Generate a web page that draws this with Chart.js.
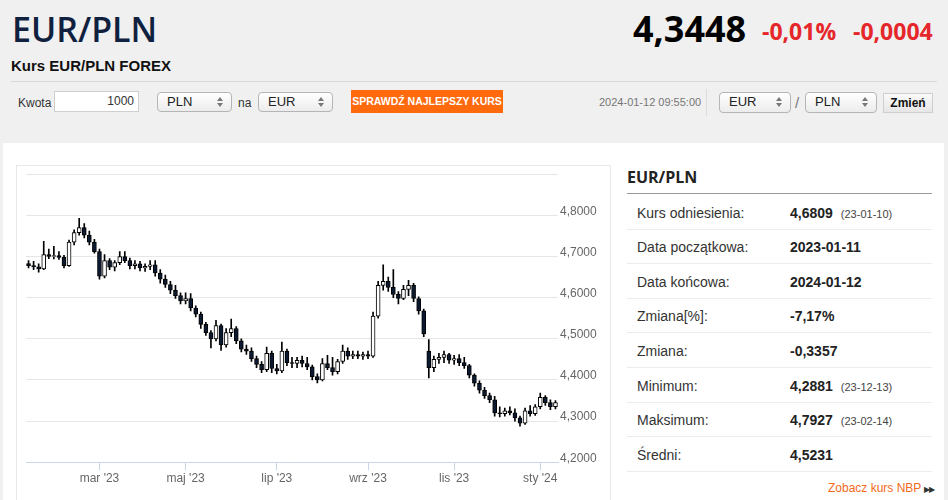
<!DOCTYPE html>
<html lang="pl">
<head>
<meta charset="utf-8">
<script src="https://cdn.jsdelivr.net/npm/chart.js@4.4.0/dist/chart.umd.min.js"></script>
<style>
  html, body { margin: 0; padding: 0; }
  body { width: 948px; height: 500px; background: #f0f0f0; position: relative; overflow: hidden;
         font-family: "Liberation Sans", Arial, sans-serif; color: #333; }
  .abs { position: absolute; line-height: 1; white-space: nowrap; }
  .os { font-family: "Open Sans", sans-serif; }
  .sel { position: absolute; box-sizing: border-box; border: 1px solid #b5b5b5; border-radius: 4px;
         background: linear-gradient(#ffffff, #ececec); font-size: 13px; color: #222; padding-left: 9px; line-height: 18px; }
  .sel:after { content: ""; position: absolute; right: 8px; top: 4px; border: 3px solid transparent; border-bottom: 4px solid #777; border-top: 0; }
  .sel:before { content: ""; position: absolute; right: 8px; top: 10px; border: 3px solid transparent; border-top: 4px solid #777; border-bottom: 0; }
  .row { position: absolute; left: 627px; width: 305px; height: 34px; border-bottom: 1px solid #ececec; }
  .row .l { position: absolute; left: 10px; top: 10px; font-size: 14px; color: #333; }
  .row .v { position: absolute; left: 163px; top: 10px; font-size: 14px; font-weight: bold; color: #222; }
  .row .d { font-size: 11px; font-weight: normal; color: #444; margin-left: 8px; }
</style>
</head>
<body>
<div class="abs os" style="left:12px;top:12px;font-size:34px;font-weight:600;color:#10213f;">EUR/PLN</div>
<div class="abs" style="left:11px;top:58px;font-size:15px;font-weight:bold;color:#111;">Kurs EUR/PLN FOREX</div>
<div class="abs os" style="left:633px;top:11px;font-size:36px;font-weight:700;color:#000;">4,3448</div>
<div class="abs os" style="left:762px;top:20px;font-size:23px;font-weight:700;color:#e5262b;">-0,01%</div>
<div class="abs os" style="left:853px;top:20px;font-size:23px;font-weight:700;color:#e5262b;">-0,0004</div>
<div class="abs" style="left:11px;top:81px;width:926px;height:1px;background:#d9d9d9;"></div>

<div class="abs" style="left:18px;top:97px;font-size:12px;color:#333;">Kwota</div>
<div class="abs" style="left:54px;top:91px;width:85px;height:21px;box-sizing:border-box;border:1px solid #cfcfcf;background:#fff;font-size:12px;text-align:right;padding-right:4px;line-height:19px;">1000</div>
<div class="sel" style="left:157px;top:92px;width:75px;height:20px;">PLN</div>
<div class="abs" style="left:238px;top:97px;font-size:12px;color:#333;">na</div>
<div class="sel" style="left:258px;top:92px;width:75px;height:20px;">EUR</div>
<div class="abs" style="left:351px;top:90px;width:152px;height:23px;background:#ff6a0d;color:#fff;font-size:10.5px;font-weight:bold;text-align:center;line-height:23px;">SPRAWDŹ NAJLEPSZY KURS</div>
<div class="abs" style="left:599px;top:97px;font-size:11px;color:#777;">2024-01-12 09:55:00</div>
<div class="abs" style="left:706px;top:89px;width:1px;height:27px;background:#dcdcdc;"></div>
<div class="sel" style="left:719px;top:92px;width:72px;height:21px;">EUR</div>
<div class="abs" style="left:795px;top:95px;font-size:15px;color:#777;">/</div>
<div class="sel" style="left:805px;top:92px;width:72px;height:21px;">PLN</div>
<div class="abs" style="left:883px;top:93px;width:50px;height:20px;box-sizing:border-box;border:1px solid #cfcfcf;background:linear-gradient(#fafafa,#e6e6e6);font-size:12px;font-weight:bold;color:#111;text-align:center;line-height:18px;">Zmień</div>

<div class="abs" style="left:3px;top:143px;width:941px;height:360px;background:#fff;"></div>
<div class="abs" style="left:16px;top:165px;width:595px;height:340px;box-sizing:border-box;border:1px solid #e8e8e8;"></div>
<div class="abs" style="left:16px;top:165px;width:596px;height:335px;">
  <canvas id="fxChart"></canvas>
</div>

<div class="abs os" style="left:627px;top:169px;font-size:16px;font-weight:700;color:#222;">EUR/PLN</div>
<div class="abs" style="left:627px;top:193px;width:305px;height:1px;background:#999;"></div>
<div id="stats"></div>
<div class="abs" style="left:828px;top:482px;font-size:12px;color:#f26a1b;">Zobacz kurs NBP <span style="color:#333;font-size:8px;letter-spacing:-1px;">▶▶</span></div>

<script>
// one candle per half week (Mon-Wed, Thu-Fri)
var dates = [
  '2023-01-11',
  '2023-01-16','2023-01-19','2023-01-23','2023-01-26','2023-01-30','2023-02-02','2023-02-06','2023-02-09',
  '2023-02-13','2023-02-16','2023-02-20','2023-02-23','2023-02-27','2023-03-02','2023-03-06','2023-03-09',
  '2023-03-13','2023-03-16','2023-03-20','2023-03-23','2023-03-27','2023-03-30','2023-04-03','2023-04-06',
  '2023-04-10','2023-04-13','2023-04-17','2023-04-20','2023-04-24','2023-04-27','2023-05-01','2023-05-04',
  '2023-05-08','2023-05-11','2023-05-15','2023-05-18','2023-05-22','2023-05-25','2023-05-29','2023-06-01',
  '2023-06-05','2023-06-08','2023-06-12','2023-06-15','2023-06-19','2023-06-22','2023-06-26','2023-06-29',
  '2023-07-03','2023-07-06','2023-07-10','2023-07-13','2023-07-17','2023-07-20','2023-07-24','2023-07-27',
  '2023-07-31','2023-08-03','2023-08-07','2023-08-10','2023-08-14','2023-08-17','2023-08-21','2023-08-24',
  '2023-08-28','2023-08-31','2023-09-04','2023-09-07','2023-09-11','2023-09-14','2023-09-18','2023-09-21',
  '2023-09-25','2023-09-28','2023-10-02','2023-10-05','2023-10-09','2023-10-12','2023-10-16','2023-10-19',
  '2023-10-23','2023-10-26','2023-10-30','2023-11-02','2023-11-06','2023-11-09','2023-11-13','2023-11-16',
  '2023-11-20','2023-11-23','2023-11-27','2023-11-30','2023-12-04','2023-12-07','2023-12-11','2023-12-14',
  '2023-12-18','2023-12-21','2023-12-25','2023-12-28','2024-01-01','2024-01-04','2024-01-08','2024-01-11'
];

var opens = [
  4.683, 4.678, 4.675, 4.670, 4.705, 4.700, 4.702, 4.698, 4.678, 4.735,
  4.758, 4.770, 4.752, 4.735, 4.712, 4.652, 4.690, 4.674, 4.685, 4.700,
  4.690, 4.678, 4.682, 4.672, 4.676, 4.680, 4.660, 4.645, 4.632, 4.618,
  4.605, 4.592, 4.598, 4.575, 4.560, 4.535, 4.515, 4.500, 4.532, 4.485,
  4.515, 4.525, 4.495, 4.475, 4.470, 4.452, 4.438, 4.425, 4.465, 4.428,
  4.422, 4.470, 4.442, 4.440, 4.448, 4.440, 4.432, 4.408, 4.400, 4.440,
  4.430, 4.420, 4.445, 4.470, 4.458, 4.462, 4.458, 4.462, 4.458, 4.555,
  4.630, 4.640, 4.625, 4.608, 4.598, 4.620, 4.630, 4.598, 4.568, 4.470,
  4.430, 4.450, 4.455, 4.462, 4.448, 4.452, 4.442, 4.435, 4.412, 4.392,
  4.375, 4.362, 4.352, 4.320, 4.318, 4.325, 4.320, 4.308, 4.295, 4.325,
  4.318, 4.335, 4.358, 4.345, 4.335
];
var highs = [
  4.690, 4.688, 4.682, 4.737, 4.718, 4.725, 4.712, 4.703, 4.740, 4.765,
  4.793, 4.780, 4.762, 4.742, 4.718, 4.705, 4.695, 4.690, 4.712, 4.712,
  4.696, 4.690, 4.688, 4.682, 4.690, 4.690, 4.668, 4.655, 4.640, 4.630,
  4.612, 4.612, 4.610, 4.580, 4.565, 4.540, 4.520, 4.545, 4.536, 4.525,
  4.548, 4.530, 4.500, 4.485, 4.478, 4.458, 4.445, 4.480, 4.470, 4.438,
  4.492, 4.475, 4.455, 4.455, 4.458, 4.455, 4.436, 4.415, 4.452, 4.460,
  4.455, 4.450, 4.485, 4.478, 4.470, 4.470, 4.468, 4.470, 4.565, 4.640,
  4.680, 4.650, 4.668, 4.615, 4.630, 4.642, 4.635, 4.602, 4.572, 4.498,
  4.458, 4.465, 4.470, 4.465, 4.460, 4.462, 4.455, 4.438, 4.415, 4.398,
  4.382, 4.368, 4.360, 4.335, 4.332, 4.335, 4.330, 4.312, 4.332, 4.338,
  4.340, 4.368, 4.362, 4.352, 4.350
];
var lows = [
  4.672, 4.668, 4.662, 4.668, 4.695, 4.694, 4.693, 4.672, 4.676, 4.728,
  4.752, 4.745, 4.728, 4.708, 4.645, 4.648, 4.668, 4.665, 4.680, 4.685,
  4.670, 4.670, 4.665, 4.664, 4.668, 4.652, 4.635, 4.625, 4.610, 4.598,
  4.585, 4.585, 4.568, 4.553, 4.525, 4.508, 4.478, 4.495, 4.472, 4.480,
  4.505, 4.488, 4.468, 4.462, 4.445, 4.430, 4.418, 4.420, 4.418, 4.415,
  4.418, 4.435, 4.430, 4.430, 4.432, 4.425, 4.400, 4.393, 4.398, 4.425,
  4.412, 4.415, 4.440, 4.450, 4.452, 4.452, 4.450, 4.452, 4.455, 4.550,
  4.618, 4.615, 4.600, 4.585, 4.595, 4.605, 4.590, 4.560, 4.505, 4.405,
  4.420, 4.440, 4.442, 4.440, 4.438, 4.435, 4.428, 4.405, 4.385, 4.368,
  4.355, 4.345, 4.312, 4.310, 4.312, 4.315, 4.300, 4.288, 4.292, 4.312,
  4.314, 4.330, 4.338, 4.328, 4.330
];
var closes = [
  4.678, 4.675, 4.670, 4.705, 4.700, 4.702, 4.698, 4.678, 4.735, 4.758,
  4.770, 4.752, 4.735, 4.712, 4.652, 4.690, 4.674, 4.685, 4.700, 4.690,
  4.678, 4.682, 4.672, 4.676, 4.680, 4.660, 4.645, 4.632, 4.618, 4.605,
  4.592, 4.598, 4.575, 4.560, 4.535, 4.515, 4.500, 4.532, 4.485, 4.515,
  4.525, 4.495, 4.475, 4.470, 4.452, 4.438, 4.425, 4.465, 4.428, 4.422,
  4.470, 4.442, 4.440, 4.448, 4.440, 4.432, 4.408, 4.400, 4.440, 4.430,
  4.420, 4.445, 4.470, 4.458, 4.462, 4.458, 4.462, 4.458, 4.555, 4.630,
  4.640, 4.625, 4.608, 4.598, 4.620, 4.630, 4.598, 4.568, 4.512, 4.430,
  4.450, 4.455, 4.462, 4.448, 4.452, 4.442, 4.435, 4.412, 4.392, 4.375,
  4.362, 4.352, 4.320, 4.318, 4.325, 4.320, 4.308, 4.295, 4.325, 4.318,
  4.335, 4.358, 4.345, 4.335, 4.345
];

var monthTicks = [
  ['2023-03-02', "mar '23"], ['2023-05-01', "maj '23"], ['2023-07-03', "lip '23"],
  ['2023-09-04', "wrz '23"], ['2023-11-02', "lis '23"], ['2024-01-01', "sty '24"]
];
var yTicks = [4.2, 4.3, 4.4, 4.5, 4.6, 4.7, 4.8, 4.9];

var statLabels = ['Kurs odniesienia:', 'Data początkowa:', 'Data końcowa:', 'Zmiana[%]:', 'Zmiana:', 'Minimum:', 'Maksimum:', 'Średni:'];
var statValues = ['4,6809', '2023-01-11', '2024-01-12', '-7,17%', '-0,3357', '4,2881', '4,7927', '4,5231'];
var statDates = ['(23-01-10)', '', '', '', '', '(23-12-13)', '(23-02-14)', ''];

var statsEl = document.getElementById('stats');
statLabels.forEach(function(lab, i) {
  var row = document.createElement('div');
  row.className = 'row';
  row.style.top = (194.5 + i * 34.6) + 'px';
  row.innerHTML = '<span class="l">' + lab + '</span><span class="v">' + statValues[i] +
    (statDates[i] ? '<span class="d">' + statDates[i] + '</span>' : '') + '</span>';
  statsEl.appendChild(row);
});

var tickIndex = {};
monthTicks.forEach(function(t) { tickIndex[dates.indexOf(t[0])] = t[1]; });

var bodyColors = opens.map(function(o, i) { return closes[i] >= o ? '#ffffff' : '#0b1a30'; });

var ctx = document.getElementById('fxChart').getContext('2d');
var fxChart = new Chart(ctx, {
  type: 'bar',
  data: {
    labels: dates,
    datasets: [
      {
        label: 'body',
        data: opens.map(function(o, i) { return [o, closes[i]]; }),
        backgroundColor: bodyColors,
        borderColor: '#000000',
        borderWidth: 1,
        borderSkipped: false,
        barThickness: 4,
        grouped: false,
        order: 0
      },
      {
        label: 'wick',
        data: lows.map(function(l, i) { return [l, highs[i]]; }),
        backgroundColor: '#000000',
        barThickness: 1,
        grouped: false,
        order: 1
      }
    ]
  },
  options: {
    responsive: true,
    maintainAspectRatio: false,
    animation: false,
    layout: { padding: { left: 10, top: 9, right: 0, bottom: 0 } },
    plugins: { legend: { display: false }, tooltip: { enabled: false } },
    scales: {
      x: {
        offset: true,
        grid: { display: true, offset: false, drawOnChartArea: false, drawTicks: true, tickLength: 8, color: '#ccd6eb' },
        border: { display: true, color: '#ccd6eb' },
        afterBuildTicks: function(axis) {
          axis.ticks = Object.keys(tickIndex).map(function(k) { return { value: +k }; });
        },
        afterFit: function(axis) { axis.height = 37.7; },
        ticks: {
          autoSkip: false, maxRotation: 0, padding: 1, color: '#666',
          font: { family: 'Liberation Sans', size: 12 },
          callback: function(v) { return tickIndex[v] || ''; }
        }
      },
      y: {
        position: 'right',
        min: 4.2,
        max: 4.9,
        afterBuildTicks: function(axis) {
          axis.ticks = yTicks.map(function(v) { return { value: v }; });
        },
        afterFit: function(axis) { axis.width = 54; },
        grid: { color: '#e6e6e6', drawTicks: false },
        border: { display: false },
        ticks: {
          padding: 2, color: '#666', labelOffset: -4,
          font: { family: 'Liberation Sans', size: 12 },
          callback: function(v) { return v > 4.85 ? '' : v.toFixed(4).replace('.', ','); }
        }
      }
    }
  }
});
</script>
</body>
</html>
